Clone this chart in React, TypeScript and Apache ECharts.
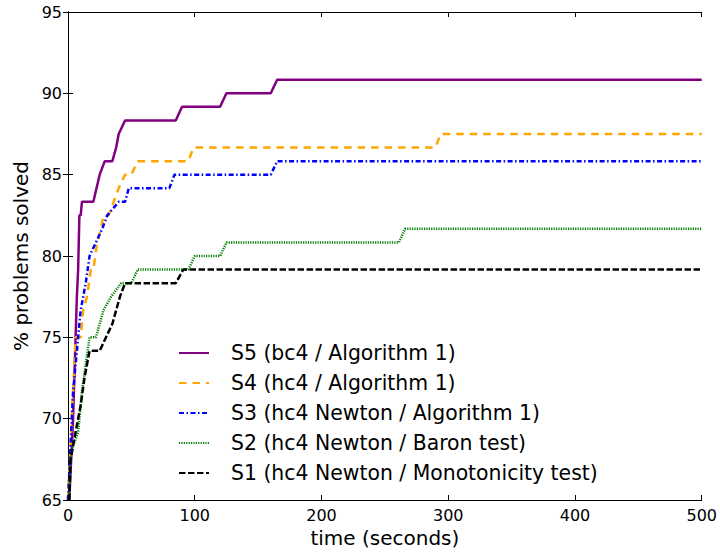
import React, { useEffect, useRef } from "react";
import * as echarts from "echarts";

const xTicks = [0, 100, 200, 300, 400, 500];
const yTicks = [65, 70, 75, 80, 85, 90, 95];

const seriesNames = [
  "S5 (bc4 / Algorithm 1)",
  "S4 (hc4 / Algorithm 1)",
  "S3 (hc4 Newton / Algorithm 1)",
  "S2 (hc4 Newton / Baron test)",
  "S1 (hc4 Newton / Monotonicity test)",
];

const s5: [number, number][] = [
  [1, 65], [3, 68.33], [4, 70], [5, 72.5], [6, 75], [7, 77.5], [8, 79.17], [9, 82.5], [10, 82.5],
  [11, 83.33], [20, 83.33], [25, 85], [29, 85.83], [35, 85.83], [38, 86.67], [40, 87.5], [45, 88.33],
  [85, 88.33], [90, 89.17], [120, 89.17], [125, 90], [160, 90], [165, 90.83], [500, 90.83],
];

const s4: [number, number][] = [
  [0, 65], [1, 66.67], [2, 68.33], [4, 71.67], [5, 73.33], [6, 75], [10, 75], [12, 76.67], [15, 77.5],
  [18, 79.17], [20, 79.17], [23, 80.83], [26, 81.67], [28, 82.5], [32, 82.5], [36, 83.33], [40, 84.17],
  [45, 85], [50, 85], [55, 85.83], [95, 85.83], [99, 86.67], [290, 86.67], [294, 87.5], [500, 87.5],
];

const s3: [number, number][] = [
  [0, 65], [2, 68.33], [3, 70], [4, 71.67], [6, 73.33], [8, 75], [10, 76.67], [14, 78.33], [17, 80],
  [22, 80.83], [27, 81.67], [31, 82.5], [40, 83.33], [45, 83.33], [48, 84.17], [80, 84.17], [84, 85],
  [160, 85], [165, 85.83], [500, 85.83],
];

const s2: [number, number][] = [
  [1, 65], [2, 67.5], [4, 68.33], [8, 69.17], [11, 71.67], [14, 73.33], [17, 75], [22, 75], [25, 75.83],
  [28, 76.67], [34, 77.5], [42, 78.33], [50, 78.33], [55, 79.17], [95, 79.17], [100, 80], [120, 80],
  [125, 80.83], [261, 80.83], [266, 81.67], [500, 81.67],
];

const s1: [number, number][] = [
  [1, 65], [2, 67.5], [4, 68.33], [6, 69.17], [8, 70], [10, 70.83], [13, 72.5], [17, 74.17], [25, 74.17],
  [30, 75], [35, 75.83], [38, 76.67], [41, 77.5], [45, 78.33], [85, 78.33], [91, 79.17], [500, 79.17],
];

const seriesData = [s5, s4, s3, s2, s1];
const colors = ["#800080", "#FFA500", "#0000FF", "#008000", "#000000"];
const dashes: any[] = ["solid", [7.5, 6], [5, 2.5, 1.5, 2.5], [1.2, 1.2], [6.5, 2.5]];

const FONT = "DejaVu Sans";

export default function App() {
  const ref = useRef<HTMLDivElement>(null);
  useEffect(() => {
    if (!ref.current) return;
    const chart = echarts.init(ref.current, undefined, { renderer: "svg" });
    const axisCommon = {
      type: "value" as const,
      axisLine: { show: true, lineStyle: { color: "#000", width: 1 } },
      axisTick: { show: true, inside: true, length: 5, lineStyle: { color: "#000", width: 1 } },
      splitLine: { show: false },
    };
    chart.setOption({
      animation: false,
      backgroundColor: "#fff",
      textStyle: { fontFamily: FONT },
      grid: { left: 68, right: 18, top: 12, bottom: 50, containLabel: false },
      xAxis: [
        {
          ...axisCommon,
          min: xTicks[0],
          max: xTicks[xTicks.length - 1],
          interval: 100,
          position: "bottom",
          axisLabel: { color: "#000", fontSize: 16, fontFamily: FONT, margin: 7 },
          name: "time (seconds)",
          nameLocation: "middle",
          nameGap: 28,
          nameTextStyle: { color: "#000", fontSize: 20, fontFamily: FONT },
        },
        {
          ...axisCommon,
          min: xTicks[0],
          max: xTicks[xTicks.length - 1],
          interval: 100,
          position: "top",
          axisLabel: { show: false },
        },
      ],
      yAxis: [
        {
          ...axisCommon,
          min: yTicks[0],
          max: yTicks[yTicks.length - 1],
          interval: 5,
          position: "left",
          axisLabel: { color: "#000", fontSize: 16, fontFamily: FONT, margin: 6 },
          name: "% problems solved",
          nameLocation: "middle",
          nameGap: 34,
          nameRotate: 90,
          nameTextStyle: { color: "#000", fontSize: 20, fontFamily: FONT },
        },
        {
          ...axisCommon,
          min: yTicks[0],
          max: yTicks[yTicks.length - 1],
          interval: 5,
          position: "right",
          axisLabel: { show: false },
        },
      ],
      legend: {
        orient: "vertical",
        left: 178,
        top: 342,
        padding: 0,
        itemWidth: 30,
        itemHeight: 14,
        itemGap: 8,
        itemStyle: { opacity: 0 },
        textStyle: { color: "#000", fontSize: 20.4, lineHeight: 22, fontFamily: FONT, padding: [0, 0, 0, 17] },
        data: seriesNames,
      },
      series: seriesNames.map((name, i) => ({
        name,
        type: "line",
        data: seriesData[i],
        xAxisIndex: 0,
        yAxisIndex: 0,
        showSymbol: false,
        symbol: "none",
        smooth: false,
        clip: true,
        color: colors[i],
        lineStyle: { color: colors[i], width: 2.5, type: dashes[i] },
      })),
    });
    return () => chart.dispose();
  }, []);
  return <div ref={ref} style={{ position: "fixed", left: 0, top: 0, width: 720, height: 553 }} />;
}
